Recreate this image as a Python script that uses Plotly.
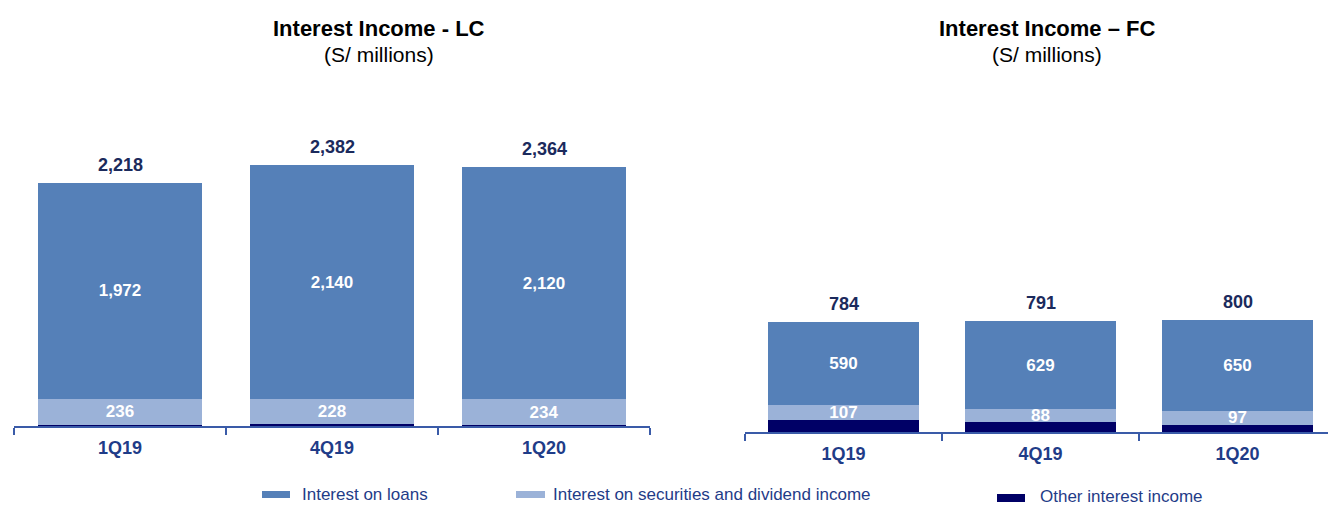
import plotly.graph_objects as go

categories = ["1Q19", "4Q19", "1Q20"]

lc_loans = [1972, 2140, 2120]
lc_securities = [236, 228, 234]
lc_other = [10, 14, 10]
lc_total = [2218, 2382, 2364]

fc_loans = [590, 629, 650]
fc_securities = [107, 88, 97]
fc_other = [87, 74, 53]
fc_total = [784, 791, 800]

series_names = ["Interest on loans", "Interest on securities and dividend income", "Other interest income"]
colors = ["#5580B8", "#9BB2D8", "#000066"]

# page offset (browser body margin) and figure size
OFF = 8
FW, FH = 1336 - OFF, 506 - OFF
ARIAL = "Liberation Sans, Arial, sans-serif"


def px(x):
    return (x - OFF) / FW


def py(y):
    return 1 - (y - OFF) / FH


def fmt(v):
    return f"{v:,}"


fig = go.Figure()

panels = [
    ("x", "y", lc_loans, lc_securities, lc_other, lc_total),
    ("x2", "y2", fc_loans, fc_securities, fc_other, fc_total),
]

for xa, ya, loans, secs, other, total in panels:
    for vals, name, col, show_text in [
        (other, series_names[2], colors[2], False),
        (secs, series_names[1], colors[1], True),
        (loans, series_names[0], colors[0], True),
    ]:
        fig.add_trace(go.Bar(
            x=categories, y=vals, name=name, marker=dict(color=col, line=dict(width=0)),
            xaxis=xa, yaxis=ya, width=0.77, showlegend=False,
            text=[fmt(v) for v in vals] if show_text else None,
            textposition="inside" if show_text else "none",
            insidetextanchor="middle", textangle=0,
            textfont=dict(family=ARIAL, size=17, color="white", weight="bold"),
            hoverinfo="skip",
        ))
    for c, t in zip(categories, total):
        fig.add_annotation(
            x=c, y=t, xref=xa, yref=ya, text=fmt(t), showarrow=False,
            yanchor="bottom", yshift=6,
            font=dict(family=ARIAL, size=18, color="#1B2A5C", weight="bold"),
        )

axis_common = dict(
    type="category", showgrid=False, zeroline=False, showline=True,
    linecolor="#3A5BA8", linewidth=2, ticks="outside", tickson="boundaries",
    ticklen=7, tickcolor="#3A5BA8", tickwidth=2, ticklabelstandoff=4,
    tickfont=dict(family=ARIAL, size=18, color="#1F3C88", weight="bold"),
)

left_axis_y, right_axis_y = 426, 432
fig.update_layout(
    width=FW, height=FH,
    margin=dict(l=0, r=0, t=0, b=0),
    paper_bgcolor="white", plot_bgcolor="white",
    barmode="stack",
    uniformtext=dict(mode="show", minsize=17),
    xaxis=dict(domain=[px(14), px(650)], anchor="y", **axis_common),
    yaxis=dict(domain=[py(left_axis_y), 1], range=[0, (left_axis_y - OFF) / 0.1096], visible=False),
    xaxis2=dict(domain=[px(745), 1.0], anchor="y2", **axis_common),
    yaxis2=dict(domain=[py(right_axis_y), 1], range=[0, (right_axis_y - OFF) / 0.1405], visible=False),
)

# Titles
titles = [(379, "Interest Income - LC"), (1047, "Interest Income \u2013 FC")]
for cx, t in titles:
    fig.add_annotation(x=px(cx), y=py(28), xref="paper", yref="paper", text=f"<b>{t}</b>",
                       showarrow=False, xanchor="center", yanchor="middle",
                       font=dict(family=ARIAL, size=22, color="black"))
    fig.add_annotation(x=px(cx), y=py(55), xref="paper", yref="paper", text="(S/ millions)",
                       showarrow=False, xanchor="center", yanchor="middle",
                       font=dict(family=ARIAL, size=21, color="black"))

# Manual legend
legend_items = [
    (262, 290, 491, 498, 300, 494),
    (516, 545, 491, 498, 551, 494),
    (997, 1025, 494, 502, 1038, 496),
]
for (x0, x1, y0, y1, tx, ty), name, col in zip(legend_items, series_names, colors):
    fig.add_shape(type="rect", xref="paper", yref="paper",
                  x0=px(x0), x1=px(x1), y0=py(y1), y1=py(y0),
                  fillcolor=col, line=dict(width=0))
    fig.add_annotation(x=px(tx), y=py(ty), xref="paper", yref="paper", text=name,
                       showarrow=False, xanchor="left", yanchor="middle",
                       font=dict(family=ARIAL, size=17, color="#1F3C88"))

fig.write_html("out.html")
